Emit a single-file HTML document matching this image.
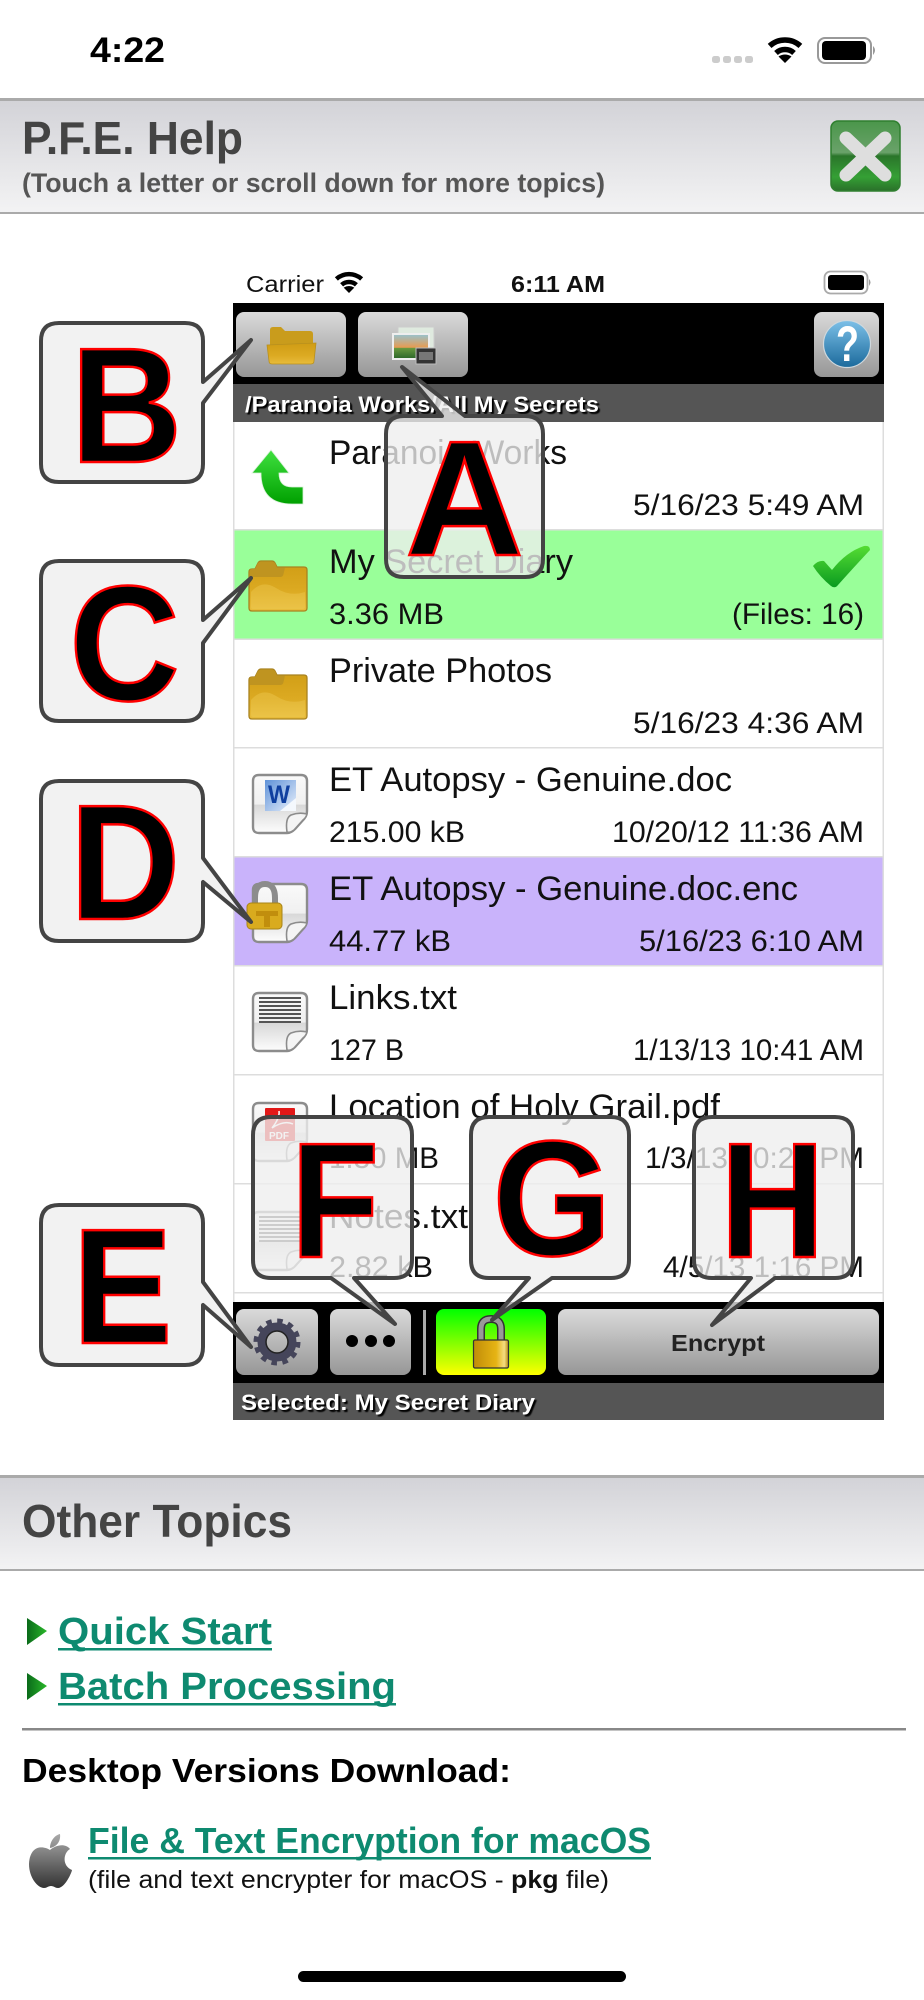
<!DOCTYPE html>
<html lang="en"><head><meta charset="utf-8"><title>P.F.E. Help</title>
<style>
html,body{margin:0;padding:0;background:#fff;width:924px;height:2000px;overflow:hidden}
svg{display:block}
text{font-family:"Liberation Sans",Arial,sans-serif}
.t{font-size:34px;fill:#111}
.s{font-size:30px;fill:#111}
.w{font-weight:bold;fill:#fff;font-size:22px;filter:drop-shadow(2px 2px .5px #000)}
.l{font-weight:bold;font-size:164px;fill:#000;stroke:#f00;stroke-width:2.500;text-anchor:middle}
.c{fill:#eee;fill-opacity:.78;stroke:#444;stroke-width:4;stroke-linejoin:round}
.h{font-weight:bold;fill:#444}
.a{font-weight:bold;fill:#0e8a70}
</style></head><body>
<svg width="924" height="2000" viewBox="0 0 924 2000" xmlns="http://www.w3.org/2000/svg">
<defs>
<linearGradient id="hd" x1="0" y1="0" x2="0" y2="1"><stop offset="0" stop-color="#d2d2d7"/><stop offset="1" stop-color="#f3f3f4"/></linearGradient>
<linearGradient id="bt" x1="0" y1="0" x2="0" y2="1"><stop offset="0" stop-color="#dadada"/><stop offset="1" stop-color="#969696"/></linearGradient>
<linearGradient id="yl" x1="0" y1="0" x2="0" y2="1"><stop offset="0" stop-color="#cf9c14"/><stop offset=".6" stop-color="#dcaa22"/><stop offset="1" stop-color="#e8bc3c"/></linearGradient>
<linearGradient id="gl" x1="0" y1="0" x2="1" y2="0"><stop offset="0" stop-color="#c08c08"/><stop offset=".65" stop-color="#e6b414"/><stop offset=".88" stop-color="#f4dc80"/><stop offset="1" stop-color="#b88a10"/></linearGradient>
<linearGradient id="gn" x1="0" y1="0" x2="0" y2="1"><stop offset="0" stop-color="#00ff00"/><stop offset="1" stop-color="#ffff00"/></linearGradient>
<linearGradient id="ar" x1="0" y1="0" x2="0" y2="1"><stop offset="0" stop-color="#3fe03f"/><stop offset="1" stop-color="#00a000"/></linearGradient>
<linearGradient id="ck" x1="0" y1="0" x2="0" y2="1"><stop offset="0" stop-color="#55dd33"/><stop offset="1" stop-color="#0a9a20"/></linearGradient>
<linearGradient id="dc" x1="0" y1="0" x2="0" y2="1"><stop offset="0" stop-color="#fafafa"/><stop offset=".5" stop-color="#f0f0f0"/><stop offset=".52" stop-color="#d8d8d8"/><stop offset="1" stop-color="#fdfdfd"/></linearGradient>
<linearGradient id="bl" x1="0" y1="0" x2="0" y2="1"><stop offset="0" stop-color="#7cc0e8"/><stop offset="1" stop-color="#1b6a9c"/></linearGradient>
<linearGradient id="cl" x1="0" y1="0" x2="0" y2="1"><stop offset="0" stop-color="#4a964a"/><stop offset=".45" stop-color="#6aa26a"/><stop offset=".5" stop-color="#2a752a"/><stop offset=".8" stop-color="#35a035"/><stop offset="1" stop-color="#2a702a"/></linearGradient>
<linearGradient id="ap" x1="0" y1="0" x2="0" y2="1"><stop offset="0" stop-color="#aaa"/><stop offset="1" stop-color="#333"/></linearGradient>
<linearGradient id="tr" x1="0" y1="0" x2="1" y2="0"><stop offset="0" stop-color="#0a6a1a"/><stop offset="1" stop-color="#2ab82a"/></linearGradient>
<linearGradient id="wd" x1="0" y1="0" x2="1" y2="1"><stop offset="0" stop-color="#5f92d8"/><stop offset="1" stop-color="#e8f0fb"/></linearGradient>
<linearGradient id="sk" x1="0" y1="0" x2="0" y2="1"><stop offset="0" stop-color="#9cc0c8"/><stop offset=".55" stop-color="#e89a50"/><stop offset=".56" stop-color="#6a9a40"/><stop offset="1" stop-color="#2f6a2a"/></linearGradient>
<g id="fd">
<path d="M1 11 Q1 8 4 8 L7 8 L10 2 Q11 0 13 0 L24 0 Q26 0 27 2 L29 6 L56 6 Q59 6 59 9 L59 47 Q59 50 56 50 L4 50 Q1 50 1 47 Z" fill="url(#yl)" stroke="#a88220" stroke-width="1.300"/>
<path d="M1.500 11 Q1.500 8 4 8 L7 8 L10 2 Q11 .7 13 .7 L24 .7 Q26 .7 27 2 L29 6.500 L37 6.500 L35.500 13 Q35 16 32 16 L1.500 16 Z" fill="#bf9420"/>
<path d="M3 31 Q14 18 28 27 Q42 36 57 31 L57 46 Q57 48 55 48 L5 48 Q3 48 3 46 Z" fill="#f4d868" fill-opacity=".3"/>
</g>
<g id="dk">
<path d="M7 1 L49 1 Q55 1 55 7 L55 37 Q55 41 52 45 L43 55 Q39 59 35 59 L7 59 Q1 59 1 53 L1 7 Q1 1 7 1 Z" fill="url(#dc)" stroke="#8c8c8c" stroke-width="2.400"/>
<path d="M35 58 Q33 44 39 41 Q47 38 55 40 Q54 44 51 46 L42 56 Q38 59 35 58 Z" fill="#f4f4f4" stroke="#8c8c8c" stroke-width="1.600"/>
</g>
<g id="wf" fill="none" stroke="#000">
<path d="M-15.400 -17.100 A23 23 0 0 1 15.400 -17.100" stroke-width="5.500"/>
<path d="M-9 -10 A13.500 13.500 0 0 1 9 -10" stroke-width="5.500"/>
<path d="M0 0 L-6.500 -6.500 Q0 -10.500 6.500 -6.500 Z" fill="#000" stroke="none"/>
</g>
</defs>

<!-- Status bar -->
<text x="90" y="62" font-size="35" font-weight="bold" textLength="75" lengthAdjust="spacingAndGlyphs" fill="#000">4:22</text>
<g fill="#ccc"><rect x="712" y="56" width="8" height="7" rx="2.500"/><rect x="723" y="56" width="8" height="7" rx="2.500"/><rect x="734" y="56" width="8" height="7" rx="2.500"/><rect x="745" y="56" width="8" height="7" rx="2.500"/></g>
<use href="#wf" transform="translate(785,63)"/>
<rect x="818" y="38" width="53" height="25" rx="7" fill="none" stroke="#999" stroke-width="2"/>
<rect x="822" y="41" width="44" height="19" rx="4" fill="#000"/>
<path d="M873 46 Q877 50 873 55 Z" fill="#999"/>

<!-- Header -->
<rect x="0" y="98" width="924" height="115" fill="url(#hd)"/>
<rect x="0" y="98" width="924" height="3" fill="#aaa"/>
<rect x="0" y="212" width="924" height="2" fill="#aaa"/>
<text class="h" x="22" y="154" font-size="46" textLength="221" lengthAdjust="spacingAndGlyphs">P.F.E. Help</text>
<text x="22" y="192" font-size="27" font-weight="bold" fill="#555" textLength="583" lengthAdjust="spacingAndGlyphs">(Touch a letter or scroll down for more topics)</text>
<rect x="831" y="121" width="69" height="70" rx="7" fill="url(#cl)" stroke="#2f7f2f" stroke-width="1.500"/>
<path d="M846 138 L885 175 M885 138 L846 175" stroke="#dedede" stroke-width="13" stroke-linecap="round"/>

<!-- Inner status -->
<text x="246" y="292" font-size="23" textLength="78" lengthAdjust="spacingAndGlyphs" fill="#111">Carrier</text>
<use href="#wf" transform="translate(349,293) scale(.82)"/>
<text x="511" y="292" font-size="23" font-weight="bold" textLength="94" lengthAdjust="spacingAndGlyphs" fill="#111">6:11 AM</text>
<rect x="824.500" y="271.500" width="43" height="22" rx="6" fill="none" stroke="#aaa" stroke-width="1.800"/>
<rect x="828" y="275" width="36" height="15" rx="3" fill="#000"/>
<path d="M869 279 Q872 282 869 286 Z" fill="#999"/>

<!-- Rows -->
<rect x="233" y="422" width="651" height="880" fill="#fff"/>
<rect x="233" y="530" width="651" height="109" fill="#99ff99"/>
<rect x="233" y="857" width="651" height="109" fill="#c9b3fb"/>
<g fill="#ddd">
<rect x="233" y="422" width="1.500" height="880"/><rect x="882.500" y="422" width="1.500" height="880"/>
<rect x="233" y="529" width="651" height="1.500"/><rect x="233" y="638.500" width="651" height="1.500"/><rect x="233" y="747" width="651" height="1.500"/><rect x="233" y="856" width="651" height="1.500"/><rect x="233" y="965" width="651" height="1.500"/><rect x="233" y="1074" width="651" height="1.500"/><rect x="233" y="1183" width="651" height="1.500"/><rect x="233" y="1292" width="651" height="1.500"/>
</g>

<text class="t" x="329" y="464" textLength="238" lengthAdjust="spacingAndGlyphs">Paranoia Works</text>
<text class="s" x="633" y="515" textLength="231" lengthAdjust="spacingAndGlyphs">5/16/23 5:49 AM</text>
<text class="t" x="329" y="573" textLength="244" lengthAdjust="spacingAndGlyphs">My Secret Diary</text>
<text class="s" x="329" y="624" textLength="115" lengthAdjust="spacingAndGlyphs">3.36 MB</text>
<text class="s" x="732" y="624" textLength="132" lengthAdjust="spacingAndGlyphs">(Files: 16)</text>
<text class="t" x="329" y="682" textLength="223" lengthAdjust="spacingAndGlyphs">Private Photos</text>
<text class="s" x="633" y="733" textLength="231" lengthAdjust="spacingAndGlyphs">5/16/23 4:36 AM</text>
<text class="t" x="329" y="791" textLength="403" lengthAdjust="spacingAndGlyphs">ET Autopsy - Genuine.doc</text>
<text class="s" x="329" y="842" textLength="136" lengthAdjust="spacingAndGlyphs">215.00 kB</text>
<text class="s" x="612" y="842" textLength="252" lengthAdjust="spacingAndGlyphs">10/20/12 11:36 AM</text>
<text class="t" x="329" y="900" textLength="469" lengthAdjust="spacingAndGlyphs">ET Autopsy - Genuine.doc.enc</text>
<text class="s" x="329" y="951" textLength="122" lengthAdjust="spacingAndGlyphs">44.77 kB</text>
<text class="s" x="639" y="951" textLength="225" lengthAdjust="spacingAndGlyphs">5/16/23 6:10 AM</text>
<text class="t" x="329" y="1009" textLength="128" lengthAdjust="spacingAndGlyphs">Links.txt</text>
<text class="s" x="329" y="1060" textLength="75" lengthAdjust="spacingAndGlyphs">127 B</text>
<text class="s" x="633" y="1060" textLength="231" lengthAdjust="spacingAndGlyphs">1/13/13 10:41 AM</text>
<text class="t" x="329" y="1118" textLength="391" lengthAdjust="spacingAndGlyphs">Location of Holy Grail.pdf</text>
<text class="s" x="329" y="1168" textLength="110" lengthAdjust="spacingAndGlyphs">1.30 MB</text>
<text class="s" x="645" y="1168" textLength="219" lengthAdjust="spacingAndGlyphs">1/3/13 10:21 PM</text>
<text class="t" x="329" y="1228" textLength="139" lengthAdjust="spacingAndGlyphs">Notes.txt</text>
<text class="s" x="329" y="1277" textLength="104" lengthAdjust="spacingAndGlyphs">2.82 kB</text>
<text class="s" x="663" y="1277" textLength="201" lengthAdjust="spacingAndGlyphs">4/5/13 1:16 PM</text>

<!-- Row icons -->
<path d="M271 450 L289 473 L279 473 Q279 487 292 487 L303 487 L303 504 L292 504 Q261 504 261 473 L252 473 Z" fill="url(#ar)" stroke="#d8f0d8" stroke-width=".8"/>
<use href="#fd" transform="translate(248,561)"/>
<use href="#fd" transform="translate(248,669)"/>
<use href="#dk" transform="translate(252,774)"/>
<path d="M265 780 L296 780 L296 811 L265 811 Z" fill="url(#wd)"/>
<path d="M280 811 L296 798 L296 811 Z" fill="#f4f8fd"/>
<text x="268" y="803" font-size="25" font-weight="bold" fill="#0f3f9f" textLength="22" lengthAdjust="spacingAndGlyphs">W</text>
<use href="#dk" transform="translate(252,883)"/>
<path d="M255 906 L255 898 Q255 884 265 884 Q275 884 275 898 L275 906" fill="none" stroke="#8c8c8c" stroke-width="6"/>
<rect x="247" y="903" width="35" height="26" rx="4" fill="#d9ab1e" stroke="#a88418" stroke-width="1"/>
<path d="M256 911 L278 911 L278 916 L270 916 L270 927 L264 927 L264 916 L256 916 Z" fill="#b88408" fill-opacity=".75"/>
<use href="#dk" transform="translate(252,992)"/>
<g fill="#555"><rect x="259" y="997" width="42" height="2"/><rect x="259" y="1001" width="42" height="2"/><rect x="259" y="1005" width="42" height="2"/><rect x="259" y="1009" width="42" height="2"/><rect x="259" y="1013" width="42" height="2"/><rect x="259" y="1017" width="42" height="2"/><rect x="259" y="1021" width="42" height="2"/></g>
<use href="#dk" transform="translate(252,1102)"/>
<rect x="265" y="1108" width="30" height="33" rx="1" fill="#e21818"/>
<path d="M272 1128 Q280 1118 279 1111 M272 1128 Q284 1120 293 1124" stroke="#fff" stroke-width="1.500" fill="none"/>
<text x="269" y="1139" font-size="10" font-weight="bold" fill="#fff">PDF</text>
<use href="#dk" transform="translate(252,1211)"/>
<g fill="#555"><rect x="259" y="1216" width="42" height="2"/><rect x="259" y="1220" width="42" height="2"/><rect x="259" y="1224" width="42" height="2"/><rect x="259" y="1228" width="42" height="2"/><rect x="259" y="1232" width="42" height="2"/><rect x="259" y="1236" width="42" height="2"/><rect x="259" y="1240" width="42" height="2"/></g>
<path d="M813 566 Q818 560 824 561 L832 570 Q846 552 864 546 Q870 545 870 550 Q855 566 838 585 Q835 589 831 586 Q820 577 813 566 Z" fill="url(#ck)"/>

<!-- Top toolbar -->
<rect x="233" y="303" width="651" height="81" fill="#000"/>
<rect x="233" y="384" width="651" height="38" fill="#555"/>
<rect x="236" y="312" width="110" height="65" rx="8" fill="url(#bt)"/>
<rect x="358" y="312" width="110" height="65" rx="8" fill="url(#bt)"/>
<rect x="814" y="312" width="65" height="65" rx="8" fill="url(#bt)"/>
<path d="M270 346 L270 330 Q270 327 273 327 L281 327 L285 331 L310 331 Q313 331 313 334 L313 346 Z" fill="#c99c1c"/>
<path d="M267 345 L316 343 L314 361 Q314 364 311 364 L272 364 Q269 364 269 361 Z" fill="url(#yl)" stroke="#b8901e" stroke-width=".8"/>
<rect x="398" y="327" width="36" height="28" fill="#dfeadf" stroke="#ccc"/>
<rect x="392" y="333" width="38" height="27" fill="#eee"/>
<rect x="394" y="335" width="34" height="23" fill="url(#sk)"/>
<rect x="416" y="348" width="20" height="16" fill="#333" stroke="#bbb"/>
<rect x="419" y="352" width="14" height="8" fill="#777"/>
<circle cx="847" cy="344" r="23.500" fill="url(#bl)" stroke="#cfd8dd" stroke-width="1.200"/>
<text x="836" y="361" font-size="50" font-weight="bold" fill="#fff" textLength="23" lengthAdjust="spacingAndGlyphs">?</text>
<text class="w" x="245" y="412" textLength="354" lengthAdjust="spacingAndGlyphs">/Paranoia Works/All My Secrets</text>

<!-- Bottom toolbar -->
<rect x="233" y="1302" width="651" height="81" fill="#000"/>
<rect x="233" y="1383" width="651" height="37" fill="#555"/>
<rect x="236" y="1309" width="82" height="66" rx="8" fill="url(#bt)"/>
<rect x="330" y="1309" width="81" height="66" rx="8" fill="url(#bt)"/>
<rect x="423" y="1310" width="3" height="65" fill="#aaa"/>
<rect x="436" y="1309" width="110" height="66" rx="8" fill="url(#gn)"/>
<rect x="558" y="1309" width="321" height="66" rx="8" fill="url(#bt)"/>
<circle cx="277" cy="1342" r="15" fill="none" stroke="#45455a" stroke-width="9"/>
<circle cx="277" cy="1342" r="21" fill="none" stroke="#45455a" stroke-width="5" stroke-dasharray="5.500 5.500"/>
<circle cx="277" cy="1342" r="11" fill="none" stroke="#222" stroke-width="1.500"/>
<circle cx="352" cy="1341" r="6" fill="#000"/><circle cx="371" cy="1341" r="6" fill="#000"/><circle cx="389" cy="1341" r="6" fill="#000"/>
<path d="M481 1342 L481 1329 Q481 1319 491 1319 Q501 1319 501 1329 L501 1342" fill="none" stroke="#333" stroke-width="8"/>
<path d="M481 1342 L481 1329 Q481 1319 491 1319 Q501 1319 501 1329 L501 1342" fill="none" stroke="#999" stroke-width="5"/>
<rect x="473.500" y="1340" width="35" height="28" rx="1.500" fill="url(#gl)" stroke="#333" stroke-width="1.200"/>
<text x="671" y="1351" font-size="23" font-weight="bold" fill="#222" textLength="94" lengthAdjust="spacingAndGlyphs">Encrypt</text>
<text class="w" x="241" y="1410" textLength="294" lengthAdjust="spacingAndGlyphs">Selected: My Secret Diary</text>

<!-- Callouts -->
<path class="c" d="M59 323 L185 323 Q203 323 203 341 L203 382 L251 340 L203 403 L203 464 Q203 482 185 482 L59 482 Q41 482 41 464 L41 341 Q41 323 59 323 Z"/>
<text class="l" transform="translate(126.500,462) scale(.94,1)">B</text>
<path class="c" d="M404 416 L442 416 L402 367 L465 416 L525 416 Q543 416 543 434 L543 559 Q543 577 525 577 L404 577 Q386 577 386 559 L386 434 Q386 416 404 416 Z"/>
<text class="l" transform="translate(464.500,555) scale(1,1)">A</text>
<path class="c" d="M59 561 L185 561 Q203 561 203 579 L203 620 L251 578 L203 643 L203 703 Q203 721 185 721 L59 721 Q41 721 41 703 L41 579 Q41 561 59 561 Z"/>
<text class="l" transform="translate(124.500,700) scale(.93,1)">C</text>
<path class="c" d="M59 781 L185 781 Q203 781 203 799 L203 858 L251 922 L203 882 L203 923 Q203 941 185 941 L59 941 Q41 941 41 923 L41 799 Q41 781 59 781 Z"/>
<text class="l" transform="translate(125,919) scale(.93,1)">D</text>
<path class="c" d="M59 1205 L185 1205 Q203 1205 203 1223 L203 1282 L251 1347 L203 1305 L203 1347 Q203 1365 185 1365 L59 1365 Q41 1365 41 1347 L41 1223 Q41 1205 59 1205 Z"/>
<text class="l" transform="translate(122.500,1343) scale(.91,1)">E</text>
<path class="c" d="M271 1117 L394 1117 Q412 1117 412 1135 L412 1260 Q412 1278 394 1278 L354 1278 L395 1324 L331 1278 L271 1278 Q253 1278 253 1260 L253 1135 Q253 1117 271 1117 Z"/>
<text class="l" transform="translate(335,1257) scale(.88,1)">F</text>
<path class="c" d="M489 1117 L611 1117 Q629 1117 629 1135 L629 1260 Q629 1278 611 1278 L552 1278 L492 1320 L529 1278 L489 1278 Q471 1278 471 1260 L471 1135 Q471 1117 489 1117 Z"/>
<text class="l" transform="translate(552,1255) scale(.93,1)">G</text>
<path class="c" d="M712 1117 L835 1117 Q853 1117 853 1135 L853 1260 Q853 1278 835 1278 L775 1278 L712 1325 L751 1278 L712 1278 Q694 1278 694 1260 L694 1135 Q694 1117 712 1117 Z"/>
<text class="l" transform="translate(772.500,1257) scale(.88,1)">H</text>

<!-- Other Topics -->
<rect x="0" y="1476" width="924" height="94" fill="url(#hd)"/>
<rect x="0" y="1475" width="924" height="3" fill="#aaa"/>
<rect x="0" y="1569" width="924" height="2" fill="#aaa"/>
<text class="h" x="22" y="1537" font-size="46" textLength="270" lengthAdjust="spacingAndGlyphs">Other Topics</text>
<polygon points="27,1618 47,1631 27,1645" fill="url(#tr)"/>
<polygon points="27,1673 47,1686 27,1700" fill="url(#tr)"/>
<text class="a" x="58" y="1644" font-size="38" textLength="214" lengthAdjust="spacingAndGlyphs">Quick Start</text>
<rect x="58" y="1648" width="214" height="2.500" fill="#0e8a70"/>
<text class="a" x="58" y="1699" font-size="38" textLength="338" lengthAdjust="spacingAndGlyphs">Batch Processing</text>
<rect x="58" y="1703" width="338" height="2.500" fill="#0e8a70"/>
<rect x="22" y="1728" width="884" height="2.500" fill="#888"/>
<text x="22" y="1782" font-size="33" font-weight="bold" fill="#000" textLength="489" lengthAdjust="spacingAndGlyphs">Desktop Versions Download:</text>
<path d="M50 1850 C44 1846 30 1844 29 1864 C29 1878 38 1888 44 1888 C47 1888 48 1886 51 1886 C54 1886 55 1888 58 1888 C65 1888 72 1872 72 1870 C62 1866 63 1853 70 1849 C65 1843 56 1845 50 1850 Z M50 1848 C50 1841 55 1835 60 1834 C61 1842 56 1847 50 1848 Z" fill="url(#ap)"/>
<text class="a" x="88" y="1853" font-size="36" textLength="563" lengthAdjust="spacingAndGlyphs">File &amp; Text Encryption for macOS</text>
<rect x="88" y="1857" width="563" height="2.500" fill="#0e8a70"/>
<text x="88" y="1888" font-size="25" fill="#111" textLength="521" lengthAdjust="spacingAndGlyphs">(file and text encrypter for macOS - <tspan font-weight="bold">pkg</tspan> file)</text>
<rect x="298" y="1971" width="328" height="11" rx="5.500" fill="#000"/>
</svg>
</body></html>
